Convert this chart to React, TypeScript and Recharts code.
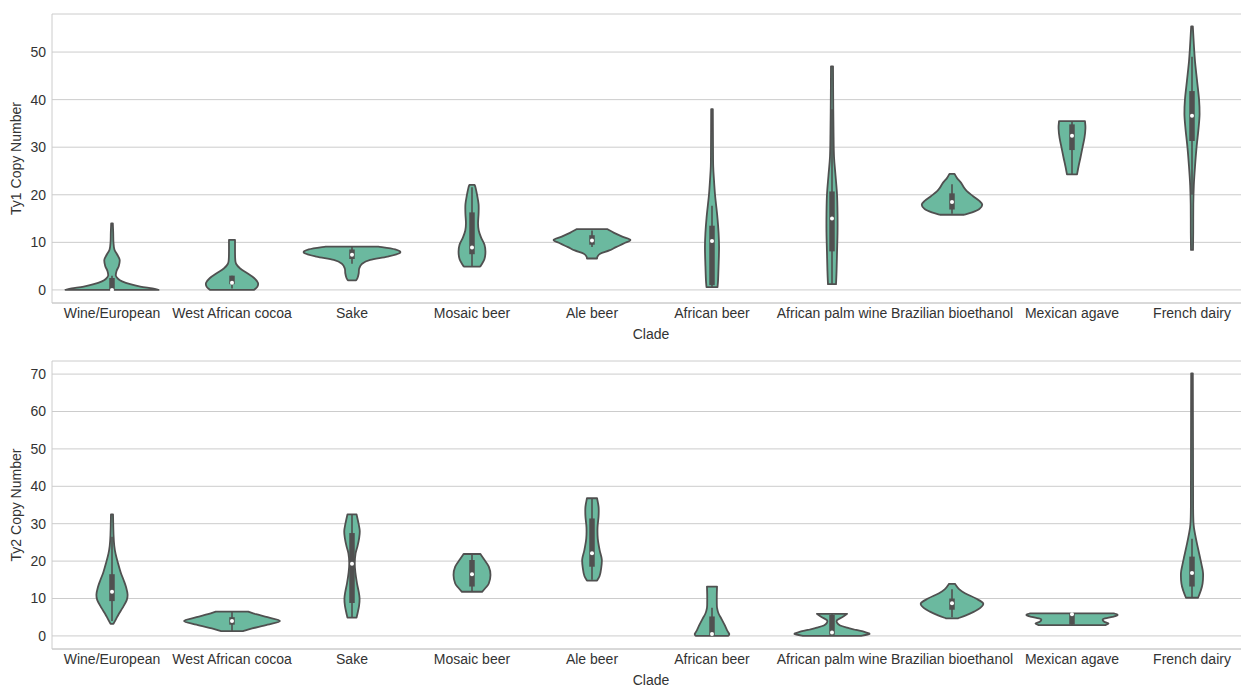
import { Bar, CartesianGrid, ComposedChart, Label, XAxis, YAxis } from 'recharts';

// clade order along the x axis (same for both panels)
const clades = [
  'Wine/European',
  'West African cocoa',
  'Sake',
  'Mosaic beer',
  'Ale beer',
  'African beer',
  'African palm wine',
  'Brazilian bioethanol',
  'Mexican agave',
  'French dairy',
];

type Profile = [number, number][]; // [copy number, relative density 0..1]
type BoxStats = [number, number, number, number, number]; // whisker lo, q1, median, q3, whisker hi

// Ty1 kernel density outlines, one per clade
const ty1Density: Profile[] = [
  [[0, 0.97], [0.3, 0.84], [0.7, 0.59], [1.2, 0.38], [1.8, 0.21], [2.3, 0.13], [3, 0.08], [4, 0.095], [5, 0.14], [6.3, 0.16], [7.5, 0.105], [8.5, 0.05], [10, 0.03], [12, 0.025], [14, 0.017]],
  [[0, 0.46], [0.7, 0.53], [1.5, 0.54], [2.5, 0.46], [3.5, 0.32], [4.5, 0.17], [5.5, 0.085], [6.5, 0.067], [8, 0.063], [10.5, 0.063]],
  [[2, 0.085], [2.5, 0.115], [3.5, 0.14], [4.5, 0.15], [5.5, 0.21], [6.3, 0.38], [7, 0.74], [7.8, 1.0], [8.5, 0.9], [9.1, 0.55]],
  [[4.9, 0.17], [5.5, 0.21], [6.5, 0.26], [8, 0.28], [9.5, 0.26], [11, 0.19], [12.5, 0.14], [14, 0.126], [16, 0.137], [18, 0.137], [20, 0.105], [21.5, 0.074], [22.1, 0.053]],
  [[6.6, 0.105], [7, 0.115], [7.6, 0.17], [8.3, 0.36], [9, 0.5], [9.8, 0.67], [10.5, 0.8], [11.2, 0.63], [12, 0.46], [12.8, 0.315]],
  [[0.6, 0.115], [2, 0.126], [5, 0.137], [9, 0.147], [12, 0.137], [15, 0.115], [18, 0.084], [20, 0.063], [23, 0.042], [26, 0.025], [30, 0.021], [38, 0.017]],
  [[1.2, 0.084], [4, 0.095], [8, 0.105], [12, 0.115], [16, 0.115], [20, 0.105], [24, 0.074], [28, 0.042], [33, 0.032], [40, 0.025], [47, 0.021]],
  [[15.8, 0.25], [16.3, 0.42], [17, 0.57], [17.9, 0.63], [18.7, 0.57], [19.7, 0.44], [20.7, 0.315], [21.5, 0.25], [22.5, 0.19], [23.5, 0.105], [24.4, 0.053]],
  [[24.3, 0.105], [26, 0.137], [28, 0.18], [30, 0.22], [32, 0.26], [34, 0.28], [35.5, 0.27]],
  [[8.4, 0.021], [12, 0.025], [18, 0.027], [22, 0.038], [26, 0.063], [30, 0.095], [34, 0.137], [37, 0.158], [40, 0.147], [44, 0.105], [48, 0.063], [51, 0.042], [55.4, 0.017]],
];

const ty1Box: BoxStats[] = [
  [0, 0, 0, 2.5, 3],
  [0.3, 1.2, 1.5, 3, 3],
  [5.5, 6.5, 7.4, 8.5, 9],
  [5, 7.5, 8.9, 16.3, 21.6],
  [9, 9.5, 10.4, 11.5, 12.5],
  [0.6, 1, 10.3, 13.5, 17.7],
  [1.2, 8.1, 15, 20.7, 38],
  [16, 16.9, 18.5, 20.3, 22.2],
  [24.3, 29.4, 32.4, 34.8, 35.5],
  [20, 31.3, 36.6, 41.8, 49],
];

// Ty2 kernel density outlines
const ty2Density: Profile[] = [
  [[3.2, 0.03], [4.5, 0.084], [6, 0.147], [7.5, 0.22], [9.5, 0.305], [11, 0.325], [13, 0.294], [15, 0.24], [17, 0.18], [19.4, 0.126], [22, 0.074], [24, 0.048], [27, 0.032], [32.5, 0.021]],
  [[1.3, 0.23], [2, 0.42], [3, 0.74], [4, 1.0], [5, 0.74], [5.8, 0.5], [6.5, 0.34]],
  [[4.9, 0.095], [6, 0.115], [8, 0.147], [10, 0.158], [12, 0.137], [14, 0.105], [17, 0.07], [19.5, 0.057], [22, 0.074], [24, 0.115], [26, 0.147], [28, 0.162], [30, 0.137], [32.5, 0.095]],
  [[11.8, 0.21], [12.8, 0.28], [14, 0.35], [16.3, 0.385], [18.5, 0.35], [20.5, 0.25], [21.9, 0.175]],
  [[14.8, 0.105], [16, 0.158], [18, 0.19], [20.5, 0.204], [23, 0.158], [26, 0.12], [29, 0.115], [32, 0.137], [34.5, 0.137], [36.8, 0.105]],
  [[0, 0.34], [0.5, 0.36], [1.5, 0.315], [3, 0.26], [4.5, 0.2], [6, 0.137], [7.5, 0.105], [9, 0.1], [11, 0.1], [13.2, 0.105]],
  [[0, 0.59], [0.5, 0.78], [1, 0.69], [1.6, 0.5], [2.2, 0.315], [2.8, 0.17], [3.5, 0.105], [4.2, 0.105], [5, 0.21], [5.9, 0.315]],
  [[4.7, 0.126], [5.5, 0.29], [6.5, 0.46], [7.5, 0.59], [8.7, 0.65], [10, 0.5], [11.4, 0.27], [12.5, 0.147], [13.9, 0.063]],
  [[2.9, 0.69], [3.3, 0.76], [3.8, 0.67], [4.5, 0.65], [5.1, 0.84], [5.6, 0.95], [6, 0.88]],
  [[10.2, 0.126], [12, 0.18], [14, 0.22], [16.8, 0.23], [19, 0.2], [21.5, 0.158], [24, 0.115], [27, 0.067], [30, 0.032], [35, 0.023], [50, 0.021], [70.2, 0.017]],
];

const ty2Box: BoxStats[] = [
  [4, 9.3, 11.8, 16.5, 26.5],
  [1.3, 3, 4, 5, 6.5],
  [5, 8.8, 19.3, 27.5, 32.5],
  [12, 13.2, 16.5, 20.3, 21.9],
  [15, 18.5, 22.1, 31.4, 36.8],
  [0, 0, 0.5, 5.2, 7.5],
  [0, 0.3, 0.9, 5.6, 5.9],
  [5, 7, 8.7, 10, 12.5],
  [2.9, 3, 5.8, 5.9, 6],
  [10.2, 13.2, 16.8, 21.2, 26],
];

const ty1Ticks = [0, 10, 20, 30, 40, 50];
const ty2Ticks = [0, 10, 20, 30, 40, 50, 60, 70];

const FONT = '"Liberation Sans", Arial, sans-serif';
const FILL = '#6bb99f';
const LINE = '#505050';
const GRID = '#cccccc';
const TEXT = '#333333';

const buildRows = (density: Profile[], box: BoxStats[]) =>
  clades.map((clade, i) => ({
    clade,
    density: density[i],
    box: box[i],
    range: [density[i][0][0], density[i][density[i].length - 1][0]],
  }));

// catmull-rom through the points, as cubic bezier segments
const smooth = (pts: number[][]) => {
  let d = '';
  for (let i = 0; i < pts.length - 1; i++) {
    const p0 = pts[Math.max(i - 1, 0)];
    const p1 = pts[i];
    const p2 = pts[i + 1];
    const p3 = pts[Math.min(i + 2, pts.length - 1)];
    const c1x = p1[0] + (p2[0] - p0[0]) / 6;
    const c1y = p1[1] + (p2[1] - p0[1]) / 6;
    const c2x = p2[0] - (p3[0] - p1[0]) / 6;
    const c2y = p2[1] - (p3[1] - p1[1]) / 6;
    d += ` C${c1x},${c1y} ${c2x},${c2y} ${p2[0]},${p2[1]}`;
  }
  return d;
};

const Violin = (props: any) => {
  const { x, y, width, height, payload } = props;
  const profile: Profile = payload.density;
  const [lo, hi] = payload.range;
  const [wlo, q1, med, q3, whi] = payload.box as BoxStats;
  const top = Math.min(y, y + height);
  const bottom = Math.max(y, y + height);
  const py = (v: number) => bottom - ((v - lo) / (hi - lo)) * (bottom - top);
  const cx = x + width / 2;
  const half = width / 2;
  const right = profile.map(([v, d]) => [cx + d * half, py(v)]);
  const left = profile
    .slice()
    .reverse()
    .map(([v, d]) => [cx - d * half, py(v)]);
  const path =
    `M${right[0][0]},${right[0][1]}` +
    smooth(right) +
    ` L${left[0][0]},${left[0][1]}` +
    smooth(left) +
    ' Z';
  return (
    <g>
      <path d={path} fill={FILL} stroke={LINE} strokeWidth={1.8} strokeLinejoin="round" />
      <line x1={cx} x2={cx} y1={py(wlo)} y2={py(whi)} stroke={LINE} strokeWidth={1.6} />
      <line x1={cx} x2={cx} y1={py(q1)} y2={py(q3)} stroke={LINE} strokeWidth={5.5} />
      <circle cx={cx} cy={py(med)} r={2} fill="#ffffff" />
    </g>
  );
};

type PanelProps = {
  label: string;
  density: Profile[];
  box: BoxStats[];
  domain: [number, number];
  ticks: number[];
  height: number;
  axisHeight: number;
  cladeOffset: number;
};

// plot area runs a little past the right edge of the page, so the right spine is cut off
const Panel = ({ label, density, box, domain, ticks, height, axisHeight, cladeOffset }: PanelProps) => (
  <ComposedChart
    width={1252}
    height={height}
    data={buildRows(density, box)}
    margin={{ top: 14, right: 0, left: 0, bottom: 0 }}
    barCategoryGap="10%"
  >
    <CartesianGrid vertical={false} stroke={GRID} strokeWidth={1} />
    <XAxis
      dataKey="clade"
      height={axisHeight}
      tickLine={false}
      tickSize={3}
      tickMargin={2}
      axisLine={{ stroke: GRID }}
      tick={{ fill: TEXT, fontSize: 14, fontFamily: FONT }}
      interval={0}
    >
      <Label
        content={({ viewBox }: any) => (
          <text
            x={651}
            y={viewBox.y + viewBox.height - cladeOffset}
            textAnchor="middle"
            fill={TEXT}
            fontSize={14}
            fontFamily={FONT}
          >
            Clade
          </text>
        )}
      />
    </XAxis>
    <XAxis xAxisId="top" dataKey="clade" orientation="top" height={0} tick={false} tickLine={false} axisLine={{ stroke: GRID }} />
    <YAxis
      type="number"
      domain={domain}
      ticks={ticks}
      allowDataOverflow
      width={52}
      tickLine={false}
      tickSize={4}
      tickMargin={2}
      axisLine={{ stroke: GRID }}
      tick={{ fill: TEXT, fontSize: 14, fontFamily: FONT }}
    >
      <Label
        content={({ viewBox }: any) => {
          const cy = viewBox.y + viewBox.height / 2;
          return (
            <text
              x={21}
              y={cy}
              transform={`rotate(-90, 21, ${cy})`}
              textAnchor="middle"
              fill={TEXT}
              fontSize={14}
              fontFamily={FONT}
            >
              {label}
            </text>
          );
        }}
      />
    </YAxis>
    <Bar dataKey={(d: any) => d.range} shape={<Violin />} isAnimationActive={false} />
  </ComposedChart>
);

export default function App() {
  return (
    <div
      style={{
        position: 'absolute',
        left: 0,
        top: 0,
        width: 1241,
        height: 688,
        overflow: 'hidden',
        background: '#ffffff',
        fontFamily: FONT,
      }}
    >
      <Panel
        label="Ty1 Copy Number"
        density={ty1Density}
        box={ty1Box}
        domain={[-2.75, 58]}
        ticks={ty1Ticks}
        height={347}
        axisHeight={44}
        cladeOffset={8}
      />
      <Panel
        label="Ty2 Copy Number"
        density={ty2Density}
        box={ty2Box}
        domain={[-3.5, 73.5]}
        ticks={ty2Ticks}
        height={341}
        axisHeight={39}
        cladeOffset={3}
      />
    </div>
  );
}
